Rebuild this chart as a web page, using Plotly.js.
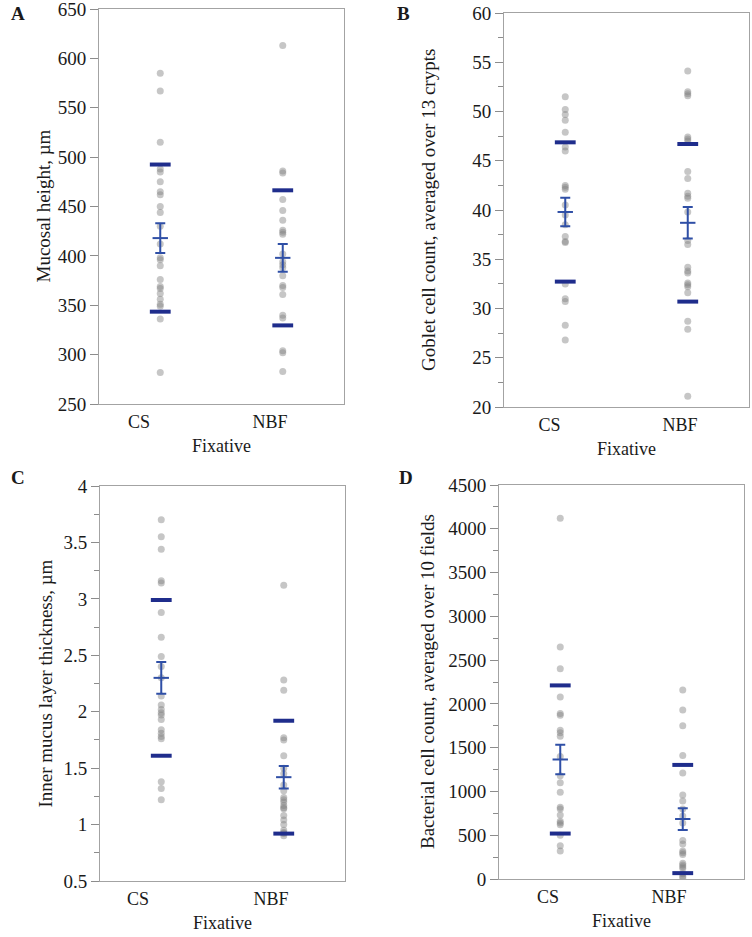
<!DOCTYPE html>
<html>
<head>
<meta charset="utf-8">
<script src="https://cdn.plot.ly/plotly-3.0.1.min.js"></script>
<style>
  html, body { margin: 0; padding: 0; background: #fff; }
  #chart { width: 752px; height: 937px; }
</style>
</head>
<body>
<div id="chart"></div>
<script>
const groups = ["CS", "NBF"];

// A: mucosal height (µm)
const mucosalCS = [585, 567, 515, 488, 485, 475, 465, 462, 450, 444, 430, 412, 398, 396, 390, 376, 369, 367, 362, 356, 351, 349, 336, 282];
const mucosalNBF = [613, 486, 484, 457, 446, 436, 426, 424, 422, 402, 394, 391, 388, 380, 370, 368, 361, 340, 337, 304, 302, 283];
const mucosalMean = [418, 398];
const mucosalSE = [15, 14];
const mucosalSD = [74.5, 68.4];

// B: goblet cell count
const gobletCS = [51.5, 50.2, 49.7, 49.1, 47.9, 46.4, 46.0, 42.5, 42.3, 42.1, 40.5, 39.5, 38.5, 37.3, 36.8, 36.7, 32.5, 31.0, 30.7, 28.3, 26.8];
const gobletNBF = [54.1, 52.0, 51.8, 51.6, 47.4, 47.2, 47.0, 43.9, 43.2, 41.7, 41.4, 41.2, 39.8, 36.9, 36.5, 34.2, 33.8, 33.6, 32.6, 32.4, 32.2, 31.6, 28.7, 27.9, 21.1];
const gobletMean = [39.8, 38.7];
const gobletSE = [1.44, 1.6];
const gobletSD = [7.07, 8.0];

// C: inner mucus layer thickness (µm)
const innerCS = [3.70, 3.55, 3.44, 3.16, 3.14, 2.88, 2.66, 2.49, 2.40, 2.30, 2.14, 2.06, 2.02, 1.99, 1.97, 1.93, 1.84, 1.81, 1.78, 1.76, 1.38, 1.32, 1.22];
const innerNBF = [3.12, 2.28, 2.19, 1.77, 1.75, 1.61, 1.50, 1.45, 1.35, 1.30, 1.24, 1.22, 1.20, 1.17, 1.15, 1.14, 1.08, 1.04, 1.00, 0.95, 0.93, 0.92, 0.90];
const innerMean = [2.30, 1.42];
const innerSE = [0.14, 0.10];
const innerSD = [0.69, 0.50];

// D: bacterial cell count
const bacterialCS = [4120, 2650, 2400, 2080, 1890, 1870, 1700, 1670, 1630, 1400, 1180, 1100, 990, 820, 800, 730, 660, 640, 620, 500, 380, 320];
const bacterialNBF = [2160, 1930, 1750, 1410, 1210, 960, 890, 800, 720, 640, 440, 400, 320, 300, 280, 180, 160, 140, 120, 60, 30, 10];
const bacterialMean = [1365, 685];
const bacterialSE = [168, 124];
const bacterialSD = [846, 618];

const FONT = "Liberation Serif, Times New Roman, serif";
const TEXT = "#1a1a1a";
const SE_COLOR = "#2f4fa6";
const SD_COLOR = "#1f2d8c";
const BAR_HALF = 0.085;

const panels = [
  {
    letter: "A", cs: mucosalCS, nbf: mucosalNBF, mean: mucosalMean, se: mucosalSE, sd: mucosalSD,
    title: "Mucosal height, µm", range: [250, 650], dtick: 50, minor: null,
    xdom: [99, 344], ydom: [9, 404], labelX: [-0.173, 0.896], titleX: 43, letterPos: [18, 13],
  },
  {
    letter: "B", cs: gobletCS, nbf: gobletNBF, mean: gobletMean, se: gobletSE, sd: gobletSD,
    title: "Goblet cell count, averaged over 13 crypts", range: [20, 60], dtick: 5, minor: 2.5,
    xdom: [504, 749], ydom: [13, 407], labelX: [-0.128, 0.937], titleX: 428, letterPos: [403, 13],
  },
  {
    letter: "C", cs: innerCS, nbf: innerNBF, mean: innerMean, se: innerSE, sd: innerSD,
    title: "Inner mucus layer thickness, µm", range: [0.5, 4], dtick: 0.5, minor: 0.25,
    xdom: [100, 345], ydom: [486, 881], labelX: [-0.19, 0.896], titleX: 45, letterPos: [18, 478],
  },
  {
    letter: "D", cs: bacterialCS, nbf: bacterialNBF, mean: bacterialMean, se: bacterialSE, sd: bacterialSD,
    title: "Bacterial cell count, averaged over 10 fields", range: [0, 4500], dtick: 500, minor: 250,
    xdom: [499, 744], ydom: [485, 879], labelX: [-0.1, 0.888], titleX: 427, letterPos: [406, 478],
  },
];

const W = 752, H = 937;
const traces = [];
const annotations = [];
const layout = {
  width: W,
  height: H,
  margin: { l: 0, r: 0, t: 0, b: 0 },
  paper_bgcolor: "#fff",
  plot_bgcolor: "#fff",
  showlegend: false,
  font: { family: FONT, size: 18, color: TEXT },
  annotations: annotations,
};

panels.forEach((p, i) => {
  const n = i === 0 ? "" : String(i + 1);
  const xa = "x" + n, ya = "y" + n;

  // raw points
  const xs = [], ys = [];
  p.cs.forEach((v) => { xs.push(0); ys.push(v); });
  p.nbf.forEach((v) => { xs.push(1); ys.push(v); });
  traces.push({
    type: "scatter", mode: "markers", xaxis: xa, yaxis: ya,
    x: xs, y: ys,
    marker: { size: 7, color: "rgba(128,128,128,0.45)", line: { width: 0 } },
    hoverinfo: "y",
  });

  // mean ± SD bars
  const sdX = [], sdY = [];
  [0, 1].forEach((g) => {
    [p.mean[g] + p.sd[g], p.mean[g] - p.sd[g]].forEach((yv) => {
      sdX.push(g - BAR_HALF, g + BAR_HALF, null);
      sdY.push(yv, yv, null);
    });
  });
  traces.push({
    type: "scatter", mode: "lines", xaxis: xa, yaxis: ya,
    x: sdX, y: sdY,
    line: { width: 4, color: SD_COLOR },
    hoverinfo: "skip",
  });

  // mean ± SE
  traces.push({
    type: "scatter", mode: "markers", xaxis: xa, yaxis: ya,
    x: [0, 1], y: p.mean,
    marker: { symbol: "line-ew", size: 11, color: SE_COLOR, line: { width: 2, color: SE_COLOR } },
    error_y: { type: "data", array: p.se, visible: true, thickness: 2, width: 5, color: SE_COLOR },
    hoverinfo: "y",
  });

  layout["xaxis" + n] = {
    domain: [p.xdom[0] / W, p.xdom[1] / W],
    anchor: ya,
    range: [-0.5, 1.5],
    tickvals: p.labelX,
    ticktext: groups,
    ticks: "",
    ticklabelstandoff: 1,
    tickfont: { family: FONT, size: 18, color: TEXT },
    showline: true, mirror: true, linecolor: "#a3a3a3", linewidth: 1,
    showgrid: false, zeroline: false, fixedrange: true,
  };
  const yax = {
    domain: [1 - p.ydom[1] / H, 1 - p.ydom[0] / H],
    anchor: xa,
    range: p.range,
    dtick: p.dtick,
    tick0: p.range[0],
    ticks: "outside", ticklen: 8, tickcolor: "#8c8c8c", tickwidth: 1,
    ticklabeloverflow: "allow",
    tickfont: { family: FONT, size: 19, color: TEXT },
    showline: true, mirror: true, linecolor: "#a3a3a3", linewidth: 1,
    showgrid: false, zeroline: false, fixedrange: true,
  };
  if (p.minor) {
    yax.minor = { dtick: p.minor, tick0: p.range[0], ticks: "outside", ticklen: 5, tickcolor: "#8c8c8c", showgrid: false };
  }
  layout["yaxis" + n] = yax;

  const midY = (p.ydom[0] + p.ydom[1]) / 2;
  const midX = (p.xdom[0] + p.xdom[1]) / 2;
  annotations.push({
    xref: "paper", yref: "paper", x: p.titleX / W, y: 1 - midY / H,
    text: p.title, textangle: -90, showarrow: false,
    xanchor: "center", yanchor: "middle",
    font: { family: FONT, size: 19, color: TEXT },
  });
  annotations.push({
    xref: "paper", yref: "paper", x: midX / W, y: 1 - (p.ydom[1] + 42) / H,
    text: "Fixative", showarrow: false,
    xanchor: "center", yanchor: "middle",
    font: { family: FONT, size: 18, color: TEXT },
  });
  annotations.push({
    xref: "paper", yref: "paper", x: p.letterPos[0] / W, y: 1 - p.letterPos[1] / H,
    text: "<b>" + p.letter + "</b>", showarrow: false,
    xanchor: "center", yanchor: "middle",
    font: { family: FONT, size: 19, color: TEXT },
  });
});

Plotly.newPlot("chart", traces, layout, { displayModeBar: false, staticPlot: true });
</script>
</body>
</html>
